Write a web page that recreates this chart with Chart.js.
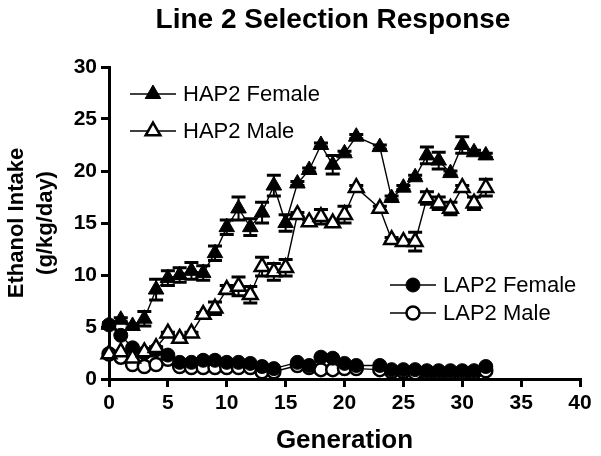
<!DOCTYPE html>
<html><head><meta charset="utf-8">
<script src="https://cdn.jsdelivr.net/npm/chart.js@4"></script>
<style>html,body{margin:0;padding:0;background:#fff;}canvas{display:block;}</style>
</head><body>
<canvas id="c" width="601" height="456"></canvas>
<script>
// Generations (no data at generation 22)
const generations = [0,1,2,3,4,5,6,7,8,9,10,11,12,13,14,15,16,17,18,19,20,21,23,24,25,26,27,28,29,30,31,32];
const hap2Female    = [5.2,5.7,5.1,5.8,8.6,9.7,10.0,10.4,10.2,12.1,14.6,16.4,14.6,16.0,18.6,15.0,18.8,20.1,22.5,20.6,21.7,23.3,22.3,17.4,18.4,19.4,21.5,21.0,19.8,22.5,21.8,21.5];
const hap2FemaleErr = [0.2,0.2,0.2,0.7,1.0,0.7,0.7,0.8,0.7,0.7,0.7,1.1,0.8,1.0,1.0,0.8,0.2,0.2,0.2,0.9,0.2,0.2,0.2,0.2,0.2,0.2,0.8,0.8,0.2,0.8,0.2,0.2];
const hap2Male      = [2.4,2.6,2.0,2.6,3.0,4.4,3.9,4.4,6.2,6.8,8.6,8.9,8.1,10.8,10.3,10.7,15.8,15.1,15.6,15.0,15.8,18.4,16.4,13.4,13.2,13.2,17.4,16.9,16.4,18.4,16.9,18.4];
const hap2MaleErr   = [0.1,0.1,0.1,0.1,0.1,0.1,0.1,0.1,0.2,0.6,0.4,0.9,0.8,0.9,0.8,0.8,0.2,0.2,0.7,0.2,0.8,0.2,0.2,0.2,0.2,0.9,0.6,0.6,0.6,0.2,0.6,0.8];
const lap2Female    = [5.2,4.2,3.0,2.5,2.8,2.3,1.6,1.6,1.8,1.8,1.6,1.6,1.5,1.2,1.0,null,1.6,1.3,2.1,2.0,1.5,1.3,1.3,0.9,0.9,0.9,0.8,0.8,0.8,0.8,0.8,1.2];
const lap2Male      = [2.4,2.1,1.4,1.2,1.4,1.9,1.2,1.1,1.1,1.1,1.1,1.1,1.1,0.7,0.7,null,1.3,1.1,0.9,0.9,1.0,1.0,0.9,0.7,0.7,0.6,0.6,0.6,0.6,0.6,0.6,0.8];
const seriesNames = ['HAP2 Female','HAP2 Male','LAP2 Female','LAP2 Male'];
const xTicks = [0,5,10,15,20,25,30,35,40];
const yTicks = [0,5,10,15,20,25,30];
const titleText = 'Line 2 Selection Response';
const yTitle = ['Ethanol Intake','(g/kg/day)'];
const xTitle = 'Generation';

const FONT = '"Liberation Sans", Arial, Helvetica, sans-serif';
function pts(vals){ return generations.map((g,i)=>({x:g, y:vals[i]})); }

const styles = [
  {pointStyle:'triangle', radius:9, fill:'#000', bw:1},
  {pointStyle:'triangle', radius:8.5, fill:'#fff', bw:2.5},
  {pointStyle:'circle', radius:7, fill:'#000', bw:1},
  {pointStyle:'circle', radius:6.5, fill:'#fff', bw:2.5}
];
const allVals = [hap2Female, hap2Male, lap2Female, lap2Male];

const datasets = allVals.map((v,i)=>({
  label: seriesNames[i],
  data: pts(v),
  borderColor:'#000', borderWidth:1.4,
  backgroundColor: styles[i].fill,
  pointStyle: styles[i].pointStyle,
  pointRadius: styles[i].radius,
  pointBackgroundColor: styles[i].fill,
  pointBorderColor:'#000',
  pointBorderWidth: styles[i].bw,
  spanGaps:true, clip:false, tension:0
}));

const errorBars = {
  id:'errorBars',
  beforeDatasetsDraw(chart){
    const ctx = chart.ctx, xs = chart.scales.x, ys = chart.scales.y;
    [[0,hap2FemaleErr],[1,hap2MaleErr]].forEach(([di,errs])=>{
      const data = chart.data.datasets[di].data;
      ctx.save(); ctx.strokeStyle='#000';
      data.forEach((p,i)=>{
        if(p.y==null) return;
        const x = xs.getPixelForValue(p.x);
        const yt = ys.getPixelForValue(p.y+errs[i]);
        const yb = ys.getPixelForValue(p.y-errs[i]);
        ctx.lineWidth=2; ctx.beginPath(); ctx.moveTo(x,yt); ctx.lineTo(x,yb); ctx.stroke();
        ctx.lineWidth=3; ctx.beginPath();
        ctx.moveTo(x-7,yt); ctx.lineTo(x+7,yt);
        ctx.moveTo(x-7,yb); ctx.lineTo(x+7,yb); ctx.stroke();
      });
      ctx.restore();
    });
  }
};

const legendTitle = {
  id:'legendTitle',
  afterDraw(chart){
    const ctx = chart.ctx;
    ctx.save();
    ctx.fillStyle='#000';
    ctx.font = 'bold 28px '+FONT;
    ctx.textAlign='center'; ctx.textBaseline='middle';
    ctx.fillText(titleText, 333, 20);
    const entries = [[0,130,94],[1,130,131],[2,390,285],[3,390,313]];
    entries.forEach(([i,x0,y])=>{
      ctx.strokeStyle='#000'; ctx.lineWidth=1.4;
      ctx.beginPath(); ctx.moveTo(x0,y); ctx.lineTo(x0+46,y); ctx.stroke();
      ctx.fillStyle = styles[i].fill; ctx.strokeStyle='#000'; ctx.lineWidth = styles[i].bw;
      Chart.helpers.drawPoint(ctx, {pointStyle:styles[i].pointStyle, radius:styles[i].radius, rotation:0, borderWidth:styles[i].bw}, x0+23, y);
      ctx.fillStyle='#000';
      ctx.font = '22px '+FONT;
      ctx.textAlign='left'; ctx.textBaseline='middle';
      ctx.fillText(seriesNames[i], x0+53, y+1);
    });
    ctx.restore();
  }
};

new Chart(document.getElementById('c'), {
  type:'line',
  data:{datasets},
  options:{
    responsive:false, animation:false, devicePixelRatio:1,
    layout:{padding:{top:67, right:21, left:0, bottom:0}},
    plugins:{legend:{display:false}, tooltip:{enabled:false}, title:{display:false}},
    scales:{
      x:{
        type:'linear', min:0, max:40,
        afterFit(s){ s.height = 77; },
        afterBuildTicks(s){ s.ticks = xTicks.map(v=>({value:v})); },
        ticks:{color:'#000', font:{family:FONT, size:21, weight:'bold'}, padding:4, maxRotation:0},
        grid:{drawOnChartArea:false, drawTicks:true, tickLength:8, color:'#000', lineWidth:3},
        border:{color:'#000', width:3},
        title:{display:true, text:xTitle, color:'#000', font:{family:FONT, size:26, weight:'bold', lineHeight:1.1}, padding:{top:0,bottom:1}}
      },
      y:{
        type:'linear', min:0, max:30,
        afterFit(s){ s.width = 109; },
        afterBuildTicks(s){ s.ticks = yTicks.map(v=>({value:v})); },
        ticks:{color:'#000', font:{family:FONT, size:21, weight:'bold'}, padding:4},
        grid:{drawOnChartArea:false, drawTicks:true, tickLength:8, color:'#000', lineWidth:3},
        border:{color:'#000', width:3},
        title:{display:true, text:yTitle, color:'#000', font:{family:FONT, size:22, weight:'bold', lineHeight:1.3}, padding:{top:3,bottom:0}}
      }
    }
  },
  plugins:[errorBars, legendTitle]
});
</script>
</body></html>
